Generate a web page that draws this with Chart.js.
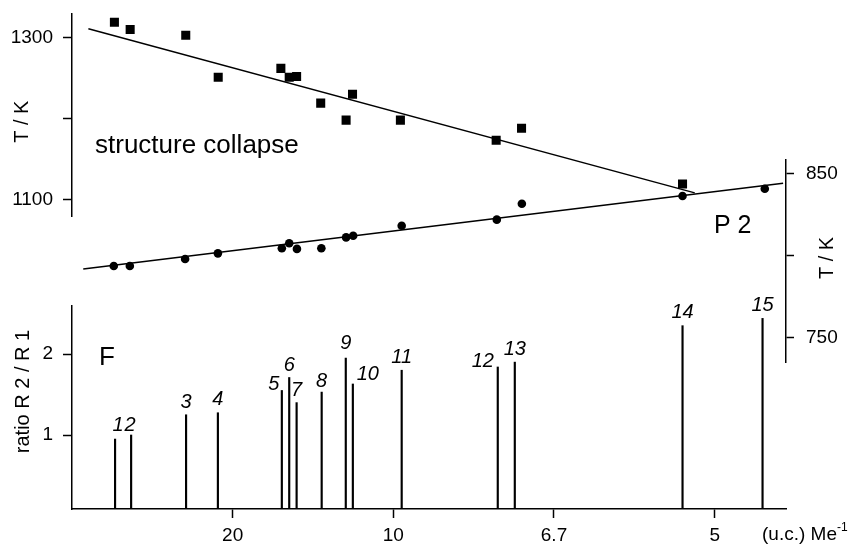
<!DOCTYPE html>
<html>
<head>
<meta charset="utf-8">
<script src="https://cdn.jsdelivr.net/npm/chart.js@4.4.1/dist/chart.umd.min.js"></script>
<style>
body{margin:0;background:#fff;}
#wrap{position:relative;width:857px;height:547px;}
#wrap canvas{position:absolute;left:0;top:0;}
</style>
</head>
<body>
<div id="wrap">
<canvas id="ratioChart" width="857" height="547"></canvas>
<canvas id="collapseChart" width="857" height="547"></canvas>
<canvas id="p2Chart" width="857" height="547"></canvas>
</div>
<script>
// x axis : Me per u.c. (labels show u.c. per Me)
var xTicks = [0.05, 0.10, 0.15, 0.20];
var xTickLabels = ['20', '10', '6.7', '5'];

// structure collapse (squares, left T/K)
var collapseX = [0.0132, 0.0181, 0.0354, 0.0455, 0.0650, 0.0676, 0.0699, 0.0774, 0.0853, 0.0873, 0.1022, 0.1320, 0.1399, 0.1900];
var collapseT = [1319, 1310, 1303, 1251, 1262, 1251, 1252, 1219, 1198, 1230, 1198, 1173, 1188, 1119];
var collapseFitX = [0.0051, 0.1938];
var collapseFitT = [1311, 1108];
var collapseTicks = [1100, 1200, 1300];
var collapseTickLabels = ['1100', '', '1300'];

// P 2 (circles, right T/K)
var p2X = [0.0130, 0.0180, 0.0352, 0.0454, 0.0653, 0.0676, 0.0700, 0.0776, 0.0853, 0.0875, 0.1026, 0.1322, 0.1400, 0.1900, 0.2156];
var p2T = [793.6, 793.6, 797.9, 801.3, 804.4, 807.4, 804.0, 804.4, 811.0, 812.0, 818.1, 821.8, 831.5, 836.2, 840.6];
var p2FitX = [0.0035, 0.2213];
var p2FitT = [791.8, 843.9];
var p2Ticks = [750, 800, 850];
var p2TickLabels = ['750', '', '850'];

// ratio R2/R1 (bars)
var barX = [0.0134, 0.0184, 0.0355, 0.0454, 0.0653, 0.0676, 0.0699, 0.0777, 0.0852, 0.0874, 0.1026, 0.1325, 0.1378, 0.1900, 0.2149];
var barRatio = [0.95, 1.0, 1.25, 1.275, 1.55, 1.71, 1.40, 1.53, 1.95, 1.63, 1.80, 1.84, 1.90, 2.35, 2.44];
var barLabels = ['1', '2', '3', '4', '5', '6', '7', '8', '9', '10', '11', '12', '13', '14', '15'];
var ratioTicks = [1, 2];

Chart.defaults.font.family = '"Liberation Sans", Arial, sans-serif';
Chart.defaults.font.size = 19;
Chart.defaults.color = '#000';

var FONT = '"Liberation Sans", Arial, sans-serif';

function pts(xs, ys){
	var out = [];
	for(var i=0;i<xs.length;i++){ out.push({x:xs[i], y:ys[i]}); }
	return out;
}

function fixedTicks(list){
	return function(scale){ scale.ticks = list.map(function(v){ return {value:v}; }); };
}

// keep the axis box exactly where the layout padding puts it
function fitWidth(w){
	return function(s){ s.width = w; s.paddingTop = 0; s.paddingBottom = 0; };
}

function axisGrid(len){
	return {display:true, offset:false, drawOnChartArea:false, drawTicks:true, tickLength:len || 9, tickColor:'#000', tickWidth:1.5};
}

var xRange = {min:0, max:0.2222};

// labels and titles
var textPlugin = {
	id:'texts',
	afterDraw:function(chart){
		var ctx = chart.ctx;
		ctx.save();
		ctx.fillStyle = '#000';

		// bar numbers
		var shift = {'1':[3,-1], '2':[-1,3], '4':[0,-1], '5':[-8,7], '8':[0,2], '9':[0,-2], '10':[15,3], '12':[-15,7], '14':[0,-1]};
		var meta = chart.getDatasetMeta(0);
		ctx.font = 'italic 20px ' + FONT;
		ctx.textAlign = 'center';
		ctx.textBaseline = 'alphabetic';
		meta.data.forEach(function(bar, i){
			var s = shift[barLabels[i]] || [0,0];
			ctx.fillText(barLabels[i], bar.x + s[0], bar.y - 7 + s[1]);
		});

		ctx.textAlign = 'left';
		ctx.font = '26px ' + FONT;
		ctx.fillText('structure collapse', 95, 153);
		ctx.fillText('F', 99, 365);
		ctx.font = '25px ' + FONT;
		ctx.fillText('P 2', 714, 233);

		// unit label
		ctx.font = '19px ' + FONT;
		ctx.textBaseline = 'middle';
		ctx.fillText('(u.c.) Me', 762, 535);
		var w = ctx.measureText('(u.c.) Me').width;
		ctx.font = '12px ' + FONT;
		ctx.fillText('-1', 762 + w, 528);

		// axis titles
		ctx.font = '20px ' + FONT;
		ctx.textAlign = 'center';
		var titles = [['T / K', 22.5, 121.7], ['ratio R 2 / R 1', 23, 391.5], ['T / K', 827.5, 258]];
		titles.forEach(function(t){
			ctx.save();
			ctx.translate(t[1], t[2]);
			ctx.rotate(-Math.PI/2);
			ctx.fillText(t[0], 0, 0);
			ctx.restore();
		});
		ctx.restore();
	}
};

// bottom panel : ratio bars + x axis
new Chart(document.getElementById('ratioChart'), {
	type:'bar',
	data:{
		datasets:[{
			data:pts(barX, barRatio),
			backgroundColor:'#000',
			borderWidth:0,
			barThickness:1.5
		}]
	},
	options:{
		responsive:false,
		animation:false,
		layout:{padding:{left:0, right:71, top:306, bottom:0}},
		plugins:{legend:{display:false}, tooltip:{enabled:false}},
		scales:{
			x:{
				type:'linear', offset:false, min:xRange.min, max:xRange.max,
				afterBuildTicks:fixedTicks(xTicks),
				afterFit:function(s){ s.height = 38; },
				ticks:{padding:6, maxRotation:0, callback:function(v){ return xTickLabels[xTicks.indexOf(v)]; }},
				grid:axisGrid(),
				border:{display:true, color:'#000', width:1.5}
			},
			y:{
				type:'linear', min:0.0864, max:2.593,
				afterBuildTicks:fixedTicks(ratioTicks),
				afterFit:fitWidth(72),
				ticks:{padding:10},
				grid:axisGrid(),
				border:{display:true, color:'#000', width:1.5}
			}
		}
	},
	plugins:[textPlugin]
});

// top panel : structure collapse, left axis
new Chart(document.getElementById('collapseChart'), {
	type:'scatter',
	data:{
		datasets:[{
			data:pts(collapseX, collapseT),
			pointStyle:'rect', pointRadius:6.4, backgroundColor:'#000', borderWidth:0
		},{
			data:pts(collapseFitX, collapseFitT),
			showLine:true, pointRadius:0, borderColor:'#000', borderWidth:1.5
		}]
	},
	options:{
		responsive:false,
		animation:false,
		layout:{padding:{left:0, right:71, top:14, bottom:330.3}},
		plugins:{legend:{display:false}, tooltip:{enabled:false}},
		scales:{
			x:{type:'linear', display:false, min:xRange.min, max:xRange.max},
			y:{
				type:'linear', min:1078.5, max:1329.3,
				afterBuildTicks:fixedTicks(collapseTicks),
				afterFit:fitWidth(72),
				ticks:{padding:10, callback:function(v){ return collapseTickLabels[collapseTicks.indexOf(v)]; }},
				grid:axisGrid(),
				border:{display:true, color:'#000', width:1.5}
			}
		}
	}
});

// middle panel : P 2, right axis
new Chart(document.getElementById('p2Chart'), {
	type:'scatter',
	data:{
		datasets:[{
			data:pts(p2X, p2T),
			pointStyle:'circle', pointRadius:4.3, backgroundColor:'#000', borderWidth:0
		},{
			data:pts(p2FitX, p2FitT),
			showLine:true, pointRadius:0, borderColor:'#000', borderWidth:1.5
		}]
	},
	options:{
		responsive:false,
		animation:false,
		layout:{padding:{left:72, right:0, top:160, bottom:184.7}},
		plugins:{legend:{display:false}, tooltip:{enabled:false}},
		scales:{
			x:{type:'linear', display:false, min:xRange.min, max:xRange.max},
			y:{
				type:'linear', position:'right', min:735, max:858.1,
				afterBuildTicks:fixedTicks(p2Ticks),
				afterFit:fitWidth(71),
				ticks:{padding:12, callback:function(v){ return p2TickLabels[p2Ticks.indexOf(v)]; }},
				grid:axisGrid(8),
				border:{display:true, color:'#000', width:1.5}
			}
		}
	}
});
</script>
</body>
</html>
